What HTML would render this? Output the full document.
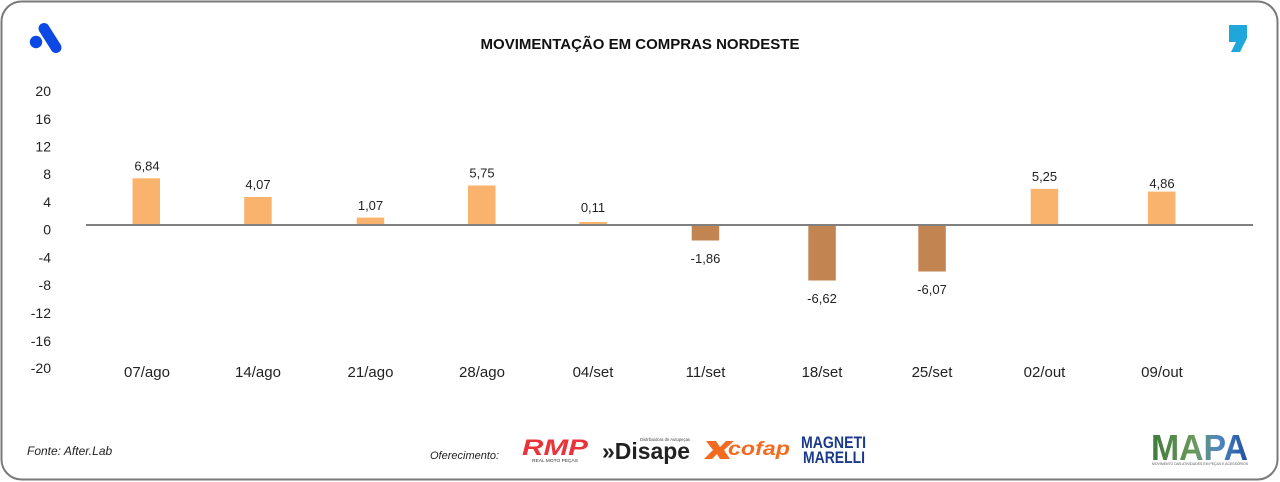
<!DOCTYPE html>
<html><head><meta charset="utf-8"><style>
html,body{margin:0;padding:0;background:#fff;}
svg{display:block;}
text{font-family:"Liberation Sans",sans-serif;}
</style></head><body>
<svg width="1280" height="482" viewBox="0 0 1280 482" xmlns="http://www.w3.org/2000/svg">
<defs>
<linearGradient id="mapa" x1="0" y1="0" x2="1" y2="0">
<stop offset="0" stop-color="#3f7a3a"/>
<stop offset="0.45" stop-color="#6a9a5c"/>
<stop offset="0.7" stop-color="#4f86c2"/>
<stop offset="1" stop-color="#1f4fa0"/>
</linearGradient>
</defs>
<rect x="1.5" y="1.5" width="1276" height="478" rx="20" ry="20" fill="#fff" stroke="#7a7a7a" stroke-width="2"/>

<!-- top-left logo -->
<circle cx="36" cy="42" r="6.2" fill="#0b48e6"/>
<line x1="44" y1="28.5" x2="56" y2="47.5" stroke="#0b48e6" stroke-width="11" stroke-linecap="round"/>

<!-- top-right comma -->
<path d="M1229 25 H1247 V38 L1240 52 H1231 L1236 42 H1229 Z" fill="#1fa6db"/>

<!-- title -->
<text x="640" y="49" text-anchor="middle" font-size="15" font-weight="bold" fill="#111">MOVIMENTAÇÃO EM COMPRAS NORDESTE</text>

<!-- y ticks -->
<g font-size="14" fill="#222" text-anchor="end">
<text x="51" y="96">20</text>
<text x="51" y="124">16</text>
<text x="51" y="151.5">12</text>
<text x="51" y="179">8</text>
<text x="51" y="207">4</text>
<text x="51" y="234.5">0</text>
<text x="51" y="262.5">-4</text>
<text x="51" y="290">-8</text>
<text x="51" y="318">-12</text>
<text x="51" y="346">-16</text>
<text x="51" y="373">-20</text>
</g>

<!-- bars -->
<g fill="#f9b36d">
<rect x="132.5" y="178.3" width="27.5" height="46.7"/>
<rect x="244.2" y="197" width="27.5" height="28"/>
<rect x="356.7" y="217.6" width="27.5" height="7.4"/>
<rect x="468" y="185.5" width="27.5" height="39.5"/>
<rect x="579.3" y="222" width="27.5" height="3"/>
<rect x="1030.7" y="188.9" width="27.5" height="36.1"/>
<rect x="1148" y="191.6" width="27.5" height="33.4"/>
</g>
<g fill="#c28451">
<rect x="691.7" y="225" width="27.5" height="15.5"/>
<rect x="808.3" y="225" width="27.5" height="55.5"/>
<rect x="918.3" y="225" width="27.5" height="46.5"/>
</g>

<!-- axis -->
<line x1="86" y1="225" x2="1253" y2="225" stroke="#808080" stroke-width="2"/>

<!-- value labels -->
<g font-size="13" fill="#222" text-anchor="middle">
<text x="147" y="170.5">6,84</text>
<text x="258" y="189">4,07</text>
<text x="370.5" y="210">1,07</text>
<text x="482" y="177.5">5,75</text>
<text x="593" y="212">0,11</text>
<text x="1044.5" y="181">5,25</text>
<text x="1162" y="188">4,86</text>
<text x="705.5" y="263">-1,86</text>
<text x="822" y="303">-6,62</text>
<text x="932" y="294">-6,07</text>
</g>

<!-- x labels -->
<g font-size="15" fill="#222" text-anchor="middle">
<text x="147" y="377">07/ago</text>
<text x="258" y="377">14/ago</text>
<text x="370.5" y="377">21/ago</text>
<text x="482" y="377">28/ago</text>
<text x="593" y="377">04/set</text>
<text x="705.5" y="377">11/set</text>
<text x="822" y="377">18/set</text>
<text x="932" y="377">25/set</text>
<text x="1044.5" y="377">02/out</text>
<text x="1162" y="377">09/out</text>
</g>

<!-- footer -->
<text x="27" y="455" font-size="12" font-style="italic" fill="#222">Fonte: After.Lab</text>
<text x="430" y="459" font-size="11" font-style="italic" fill="#222">Oferecimento:</text>

<!-- RMP -->
<text x="522" y="455" font-size="22" font-weight="bold" font-style="italic" fill="#e8333a" textLength="66" lengthAdjust="spacingAndGlyphs">RMP</text>
<text x="532" y="462" font-size="4.5" fill="#333" textLength="46" lengthAdjust="spacingAndGlyphs">REAL MOTO PEÇAS</text>

<!-- Disape -->
<text x="640" y="441" font-size="4.5" fill="#444" textLength="50" lengthAdjust="spacingAndGlyphs">Distribuidora de Autopeças</text>
<text x="602" y="459" font-size="23" font-weight="bold" fill="#222" textLength="88" lengthAdjust="spacingAndGlyphs">»Disape</text>

<!-- cofap -->
<path d="M706 441 L716 441 L720 447 L726 441 L734 441 L724 450 L730 459 L720 459 L717 454 L712 459 L704 459 L713 450 Z" fill="#f26b21"/>
<text x="728" y="455" font-size="19" font-weight="bold" font-style="italic" fill="#f26b21" textLength="62" lengthAdjust="spacingAndGlyphs">cofap</text>

<!-- Magneti Marelli -->
<text x="801" y="448" font-size="17" font-weight="bold" fill="#1b3a8c" textLength="65" lengthAdjust="spacingAndGlyphs">MAGNETI</text>
<text x="803" y="463" font-size="17" font-weight="bold" fill="#1b3a8c" textLength="62" lengthAdjust="spacingAndGlyphs">MARELLI</text>

<!-- MAPA -->
<text x="1151" y="460" font-size="36" font-weight="bold" fill="url(#mapa)" textLength="97" lengthAdjust="spacingAndGlyphs">MAPA</text>
<text x="1152" y="465" font-size="3.5" fill="#555" textLength="96" lengthAdjust="spacingAndGlyphs">MOVIMENTO DAS ATIVIDADES EM PEÇAS E ACESSÓRIOS</text>
</svg>
</body></html>
